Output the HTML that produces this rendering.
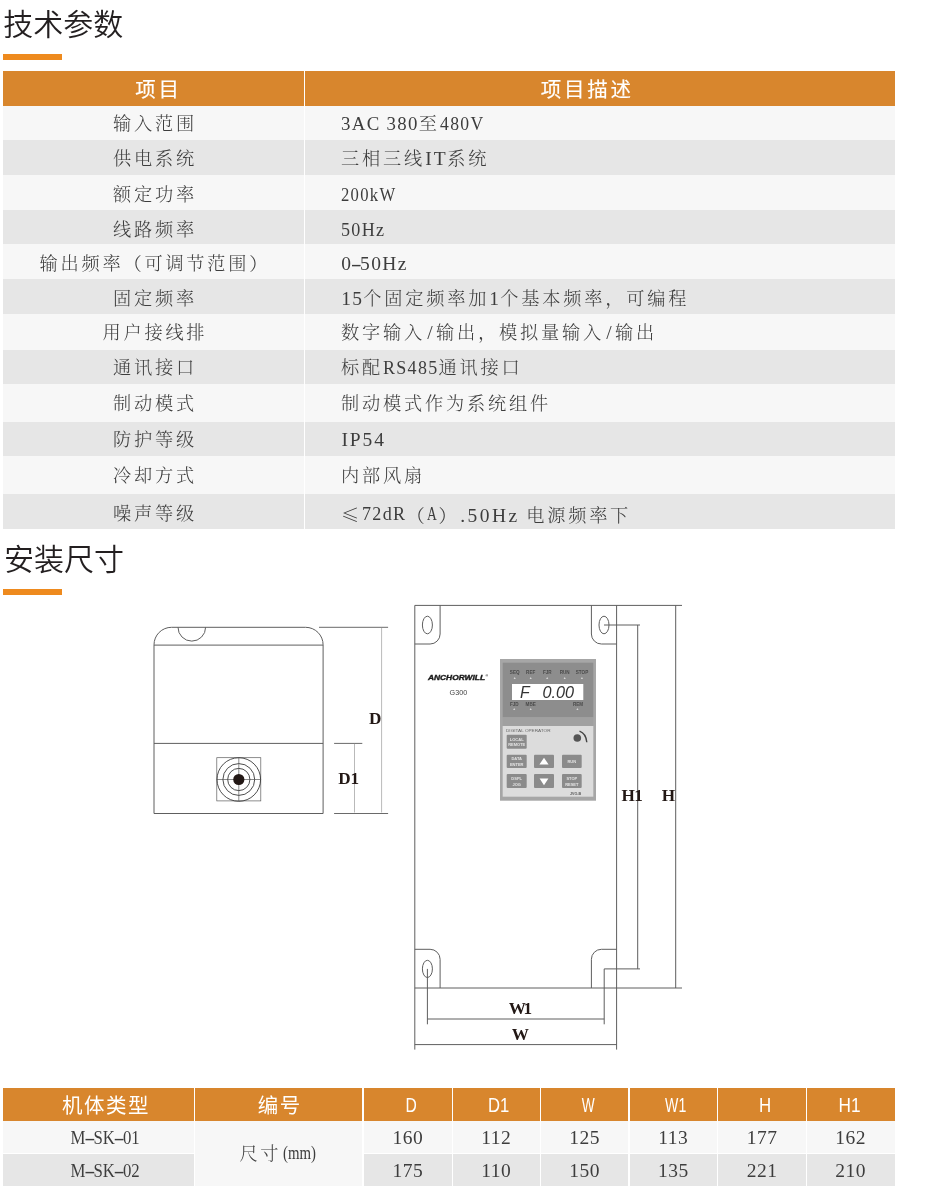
<!DOCTYPE html>
<html lang="zh-CN">
<head>
<meta charset="utf-8">
<title>技术参数</title>
<style>
*{box-sizing:border-box;margin:0;padding:0}
html,body{width:928px;height:1200px;background:#fff;overflow:hidden}
body{font-family:"Liberation Serif","Noto Serif CJK SC",serif;color:#3d3d3d}
#pg{position:absolute;left:0;top:0;width:928px;height:1200px;will-change:transform;overflow:hidden}
#pg div,#pg h2{position:absolute;white-space:nowrap}
h2{left:4px;font-family:"Liberation Sans","Noto Sans CJK SC",sans-serif;font-weight:350;font-size:30px;line-height:40px;color:#231f20}
.bar{left:3px;width:59px;height:6px;background:#ee8a1e}
.hd{background:#d8862d}
.ht{color:#fff;font-family:"Liberation Sans","Noto Sans CJK SC",sans-serif;font-weight:400;line-height:30px;height:30px}
.t{font-weight:300;font-size:18.2px;letter-spacing:2.8px;line-height:30px;height:30px}
.c{text-align:center}
.l{letter-spacing:2px;position:relative;font-size:19.5px;line-height:1px}
.q{display:inline-block;transform-origin:0 50%;line-height:30px;vertical-align:top}
.hy{display:inline-block;transform:scaleX(2);margin:0 1.4px}
.k{font-family:"Noto Serif CJK SC",serif}
svg{position:absolute;left:0;top:0}
</style>
</head>
<body>
<div id="pg">
<h2 style="top:4.5px;left:3.3px">技术参数</h2>
<div class="bar" style="top:53.5px"></div>
<div class="hd" style="left:3px;top:71px;width:892px;height:34.5px"></div>
<div style="left:3px;top:105.5px;width:892px;height:34.9px;background:#f7f7f7"></div>
<div style="left:3px;top:140.4px;width:892px;height:35.0px;background:#e6e6e6"></div>
<div style="left:3px;top:175.4px;width:892px;height:34.6px;background:#f7f7f7"></div>
<div style="left:3px;top:210px;width:892px;height:34px;background:#e6e6e6"></div>
<div style="left:3px;top:244px;width:892px;height:35px;background:#f7f7f7"></div>
<div style="left:3px;top:279px;width:892px;height:35px;background:#e6e6e6"></div>
<div style="left:3px;top:314px;width:892px;height:35.6px;background:#f7f7f7"></div>
<div style="left:3px;top:349.6px;width:892px;height:34.4px;background:#e6e6e6"></div>
<div style="left:3px;top:384px;width:892px;height:37.6px;background:#f7f7f7"></div>
<div style="left:3px;top:421.6px;width:892px;height:34.8px;background:#e6e6e6"></div>
<div style="left:3px;top:456.4px;width:892px;height:38.0px;background:#f7f7f7"></div>
<div style="left:3px;top:494.4px;width:892px;height:34.6px;background:#e6e6e6"></div>
<div style="left:303.8px;top:71px;width:1.3px;height:458px;background:#fff"></div>
<div class="ht" style="left:135.2px;top:74.6px;font-size:20.5px;letter-spacing:2.8px;-webkit-text-stroke:0.15px #fff">项目</div>
<div class="ht" style="left:540.7px;top:74.6px;font-size:20.5px;letter-spacing:2.8px;-webkit-text-stroke:0.15px #fff">项目描述</div>
<div class="t c" style="left:3px;width:301px;padding-left:2.8px;top:108.8px">输入范围</div>
<div class="t" style="left:341px;top:108.8px"><span class="l q" style="letter-spacing:1.34px;transform:scaleX(0.967);margin-right:-2.62px">3AC 380</span>至<span class="l q" style="letter-spacing:1.44px;transform:scaleX(0.905);margin-right:-4.65px">480V</span></div>
<div class="t c" style="left:3px;width:301px;padding-left:2.8px;top:144.1px">供电系统</div>
<div class="t" style="left:341px;top:144.1px">三相三线<span class="l" style="letter-spacing:1.9px;left:0.4px">IT</span>系统</div>
<div class="t c" style="left:3px;width:301px;padding-left:2.8px;top:179.5px">额定功率</div>
<div class="t" style="left:341px;top:179.5px"><span class="l q" style="letter-spacing:1.52px;transform:scaleX(0.854);margin-right:-9.48px">200kW</span></div>
<div class="t c" style="left:3px;width:301px;padding-left:2.8px;top:215px">线路频率</div>
<div class="t" style="left:341px;top:215px"><span class="l q" style="letter-spacing:1.4px;transform:scaleX(0.928);margin-right:-3.42px">50Hz</span></div>
<div class="t c" style="left:3px;width:301px;padding-left:2.8px;top:249.4px">输出频率（可调节范围）</div>
<div class="t" style="left:341px;top:249.4px"><span class="l" style="letter-spacing:1.36px;left:0.13px">0<span class="hy" style="margin:0;transform:translateX(1.5px) scaleX(1.7)">-</span>50Hz</span></div>
<div class="t c" style="left:3px;width:301px;padding-left:2.8px;top:283.8px">固定频率</div>
<div class="t" style="left:341px;top:283.8px"><span class="l" style="letter-spacing:1.36px;left:0.13px">15</span>个固定频率加<span class="l" style="letter-spacing:1.36px;left:0.13px">1</span>个基本频率，可编程</div>
<div class="t c" style="left:3px;width:301px;padding-left:2.8px;top:318.4px">用户接线排</div>
<div class="t" style="left:341px;top:318.4px">数字输入<span class="l" style="letter-spacing:5.68px;left:2.29px">/</span>输出，模拟量输入<span class="l" style="letter-spacing:5.68px;left:2.29px">/</span>输出</div>
<div class="t c" style="left:3px;width:301px;padding-left:2.8px;top:352.5px">通讯接口</div>
<div class="t" style="left:341px;top:352.5px">标配<span class="l q" style="letter-spacing:1.41px;transform:scaleX(0.923);margin-right:-4.61px">RS485</span>通讯接口</div>
<div class="t c" style="left:3px;width:301px;padding-left:2.8px;top:389px">制动模式</div>
<div class="t" style="left:341px;top:389px">制动模式作为系统组件</div>
<div class="t c" style="left:3px;width:301px;padding-left:2.8px;top:425.2px">防护等级</div>
<div class="t" style="left:341px;top:425.2px"><span class="l" style="letter-spacing:1.9px;left:0.4px">IP54</span></div>
<div class="t c" style="left:3px;width:301px;padding-left:2.8px;top:461.1px">冷却方式</div>
<div class="t" style="left:341px;top:461.1px">内部风扇</div>
<div class="t c" style="left:3px;width:301px;padding-left:2.8px;top:498.7px">噪声等级</div>
<div class="t" style="left:341px;top:498.7px"><span class="k">≤</span><span class="l q" style="letter-spacing:1.4px;transform:scaleX(0.928);margin-right:-3.44px">72dR</span>（<span class="l q" style="letter-spacing:1.87px;transform:scaleX(0.696);margin-right:-4.85px">A</span>）<span class="l" style="letter-spacing:2.44px;left:0.67px">.50Hz </span>电源频率下</div>
<h2 style="top:539.5px">安装尺寸</h2>
<div class="bar" style="top:588.6px"></div>
<svg width="928" height="1200" viewBox="0 0 928 1200">
<defs>
<filter id="sf" x="-5%" y="-5%" width="110%" height="110%"><feGaussianBlur stdDeviation="0.45"/></filter>
<filter id="sf2" x="-20%" y="-20%" width="140%" height="140%"><feGaussianBlur stdDeviation="0.3"/></filter>
</defs>
<g fill="none" stroke="#5e5e5e" stroke-width="1">
<!-- side view -->
<path d="M154 813.5V644.8A17.5 17.5 0 0 1 171.5 627.3H305.6A17.5 17.5 0 0 1 323.1 644.8V813.5Z"/>
<path d="M154 645.1H323.1M154 743.4H323.1"/>
<path d="M178 627.3A13.8 13.8 0 0 0 205.6 627.3"/>
<rect x="216.8" y="757.7" width="44" height="43.2" stroke-width="0.7"/>
<g stroke="#3a3a3a" stroke-width="0.9"><circle cx="238.8" cy="779.5" r="21.8"/><circle cx="238.8" cy="779.5" r="15.9"/><circle cx="238.8" cy="779.5" r="11.1"/>
<path d="M216.8 779.5H260.8M238.8 757.7V800.9" stroke-width="0.6"/></g>
<circle cx="238.8" cy="779.5" r="5.6" fill="#231815" stroke="none"/>
<path d="M319 627.3H388.1M334.1 743.4H362.3M334.1 813.5H388.1" stroke="#6a6a6a"/>
<path d="M354.5 743.4V812.5M381.6 627.3V812.5" stroke="#8a8a8a" stroke-width="0.6"/>
<!-- front view -->
<path d="M414.8 605.4H682M414.8 988H682M414.8 605.4V1049.6M616.6 605.4V1049.6"/>
<path d="M440.1 605.4V634A10 10 0 0 1 430.1 644H414.8M591.4 605.4V634A10 10 0 0 0 601.4 644H616.6"/>
<path d="M414.8 949.3H430.1A10 10 0 0 1 440.1 959.3V988M616.6 949.3H601.4A10 10 0 0 0 591.4 959.3V988"/>
<ellipse cx="427.4" cy="625" rx="5" ry="8.8"/><ellipse cx="604" cy="625" rx="5" ry="8.8"/><ellipse cx="427.4" cy="968.9" rx="5" ry="8.6"/>
<path d="M604 625H640M637.7 625V968.9M640 968.9H604.2V1024.3M675.7 605.4V988"/>
<path d="M427.4 968.9V1024.3M427.4 1019H604.2M414.8 1044.6H616.6"/>
</g>
<g font-family="'Liberation Serif',serif" font-weight="700" font-size="17.2" fill="#231815">
<text x="369" y="724.2">D</text>
<text x="338.2" y="784.1">D1</text>
<text x="621.5" y="801.3" letter-spacing="-0.6">H1</text>
<text x="661.7" y="801.3">H</text>
<text x="508.8" y="1014" letter-spacing="-2.6">W1</text>
<text x="511.8" y="1039.6">W</text>
</g>
<!-- logo -->
<text x="428" y="680.2" font-family="'Liberation Sans',sans-serif" font-weight="700" font-style="italic" font-size="6.7" fill="#1a1a1a" stroke="#1a1a1a" stroke-width="0.35" textLength="57" lengthAdjust="spacingAndGlyphs">ANCHORWILL</text>
<text x="485.6" y="677.4" font-family="'Liberation Sans',sans-serif" font-size="3.4" font-weight="700" fill="#1a1a1a">®</text>
<text x="449.6" y="694.9" font-family="'Liberation Sans',sans-serif" font-size="7.8" fill="#444" textLength="17.6" lengthAdjust="spacingAndGlyphs">G300</text>
<!-- operator panel -->
<g filter="url(#sf)">
<rect x="500" y="659" width="96" height="141.7" fill="#a6a6a6"/>
<rect x="502.7" y="662.7" width="90.6" height="54.6" fill="#8d8d8d"/>
<rect x="502.7" y="717.3" width="90.6" height="8.7" fill="#a0a0a0"/>
<rect x="502.7" y="726" width="90.6" height="70.7" fill="#dcdcdc"/>
<rect x="512" y="684" width="71.3" height="16" fill="#fff"/>
<g fill="#8b8b8b">
<rect x="506.7" y="734.7" width="20" height="14" rx="1"/>
<rect x="506.7" y="754.7" width="20" height="13.3" rx="1"/><rect x="534" y="754.7" width="20" height="13.3" rx="1"/><rect x="562" y="754.7" width="19.7" height="13.3" rx="1"/>
<rect x="506.7" y="774" width="20" height="14" rx="1"/><rect x="534" y="774" width="20" height="14" rx="1"/><rect x="562" y="774" width="19.7" height="14" rx="1"/>
</g>
<path d="M544 757.8L548.6 764.6H539.4ZM544 785.2L548.4 778.6H539.6Z" fill="#fff"/>
<circle cx="577.3" cy="738" r="3.8" fill="#555"/>
<path d="M579.5 731.2Q586 733.5 586.8 742.2" fill="none" stroke="#444" stroke-width="1.4"/>
</g>
<g font-family="'Liberation Sans',sans-serif" filter="url(#sf2)">
<g font-size="4.6" fill="#4a4a4a" text-anchor="middle" font-weight="700">
<text x="514.7" y="673.6">SEQ</text><text x="530.7" y="673.6">REF</text><text x="547.3" y="673.6">FJR</text><text x="564.7" y="673.6">RUN</text><text x="582" y="673.6">STOP</text>
<text x="514.3" y="705.8">FJD</text><text x="530.7" y="705.8">MBE</text><text x="578" y="705.8">REM</text>
</g>
<g font-size="3.4" fill="#d6d6d6" text-anchor="middle">
<text x="514.7" y="678.8">▲</text><text x="530.7" y="678.8">▲</text><text x="547.3" y="678.8">▲</text><text x="564.7" y="678.8">▲</text><text x="582" y="678.8">▲</text>
<text x="514.3" y="710.3">▲</text><text x="530.7" y="710.3">▲</text><text x="577.5" y="710.3">▲</text>
</g>
<text x="520" y="697.7" font-size="15.8" font-style="italic" fill="#333">F</text>
<text x="542.4" y="697.7" font-size="15.8" font-style="italic" fill="#333" textLength="31.6" lengthAdjust="spacingAndGlyphs">0.00</text>
<text x="506" y="731.8" font-size="4.4" fill="#666" textLength="44.6" lengthAdjust="spacingAndGlyphs">DIGITAL OPERATOR</text>
<g font-size="4" fill="#e4e4e4" text-anchor="middle" font-weight="700">
<text x="516.7" y="740.8">LOCAL</text><text x="516.7" y="746.2">REMOTE</text>
<text x="516.7" y="760.2">DATA</text><text x="516.7" y="765.6">ENTER</text>
<text x="571.8" y="763">RUN</text>
<text x="516.7" y="780">DSPL</text><text x="516.7" y="785.6">JOG</text>
<text x="571.8" y="780">STOP</text><text x="571.8" y="785.6">RESET</text>
</g>
<text x="570" y="794.8" font-size="3.6" fill="#555" font-weight="700">JVO-B</text>
</g>
</svg>

<div class="hd" style="left:3px;top:1088.2px;width:190.75px;height:32.6px"></div>
<div style="left:3px;top:1120.8px;width:190.75px;height:32.7px;background:#f7f7f7"></div>
<div style="left:3px;top:1153.5px;width:190.75px;height:32.2px;background:#e6e6e6"></div>
<div class="ht c" style="left:-14.0px;width:240px;top:1091.1px;font-size:20.5px;letter-spacing:1.5px">机体类型</div>
<div class="t c" style="left:-15.3px;width:240px;top:1122.5px;font-size:19.5px;letter-spacing:0px"><span style="display:inline-block;transform:scaleX(0.86)">M<span class="hy">-</span>SK<span class="hy">-</span>01</span></div>
<div class="t c" style="left:-15.3px;width:240px;top:1156.2px;font-size:19.5px;letter-spacing:0px"><span style="display:inline-block;transform:scaleX(0.86)">M<span class="hy">-</span>SK<span class="hy">-</span>02</span></div>
<div class="hd" style="left:195.25px;top:1088.2px;width:167.2px;height:32.6px"></div>
<div style="left:195.25px;top:1120.8px;width:167.2px;height:64.9px;background:#f7f7f7"></div>
<div class="ht c" style="left:159.75px;width:240px;top:1091.1px;font-size:20.5px;letter-spacing:1.5px">编号</div>
<div class="hd" style="left:363.95px;top:1088.2px;width:87.6px;height:32.6px"></div>
<div style="left:363.95px;top:1120.8px;width:87.6px;height:32.7px;background:#f7f7f7"></div>
<div style="left:363.95px;top:1153.5px;width:87.6px;height:32.2px;background:#e6e6e6"></div>
<div class="ht c" style="left:290.7px;width:240px;top:1090.4px;font-size:19.6px"><span style="display:inline-block;transform:scaleX(0.8)">D</span></div>
<div class="t c" style="left:287.75px;width:240px;top:1122.5px;font-size:19.5px;letter-spacing:0.5px">160</div>
<div class="t c" style="left:287.75px;width:240px;top:1156.2px;font-size:19.5px;letter-spacing:0.5px">175</div>
<div class="hd" style="left:453.05px;top:1088.2px;width:86.5px;height:32.6px"></div>
<div style="left:453.05px;top:1120.8px;width:86.5px;height:32.7px;background:#f7f7f7"></div>
<div style="left:453.05px;top:1153.5px;width:86.5px;height:32.2px;background:#e6e6e6"></div>
<div class="ht c" style="left:378.1px;width:240px;top:1090.4px;font-size:19.6px"><span style="display:inline-block;transform:scaleX(0.85)">D1</span></div>
<div class="t c" style="left:376.3px;width:240px;top:1122.5px;font-size:19.5px;letter-spacing:0.5px">112</div>
<div class="t c" style="left:376.3px;width:240px;top:1156.2px;font-size:19.5px;letter-spacing:0.5px">110</div>
<div class="hd" style="left:541.05px;top:1088.2px;width:87.3px;height:32.6px"></div>
<div style="left:541.05px;top:1120.8px;width:87.3px;height:32.7px;background:#f7f7f7"></div>
<div style="left:541.05px;top:1153.5px;width:87.3px;height:32.2px;background:#e6e6e6"></div>
<div class="ht c" style="left:468.4px;width:240px;top:1090.4px;font-size:19.6px"><span style="display:inline-block;transform:scaleX(0.7)">W</span></div>
<div class="t c" style="left:464.7px;width:240px;top:1122.5px;font-size:19.5px;letter-spacing:0.5px">125</div>
<div class="t c" style="left:464.7px;width:240px;top:1156.2px;font-size:19.5px;letter-spacing:0.5px">150</div>
<div class="hd" style="left:629.85px;top:1088.2px;width:87.0px;height:32.6px"></div>
<div style="left:629.85px;top:1120.8px;width:87.0px;height:32.7px;background:#f7f7f7"></div>
<div style="left:629.85px;top:1153.5px;width:87.0px;height:32.2px;background:#e6e6e6"></div>
<div class="ht c" style="left:555.4px;width:240px;top:1090.4px;font-size:19.6px"><span style="display:inline-block;transform:scaleX(0.72)">W1</span></div>
<div class="t c" style="left:553.35px;width:240px;top:1122.5px;font-size:19.5px;letter-spacing:0.5px">113</div>
<div class="t c" style="left:553.35px;width:240px;top:1156.2px;font-size:19.5px;letter-spacing:0.5px">135</div>
<div class="hd" style="left:718.35px;top:1088.2px;width:87.3px;height:32.6px"></div>
<div style="left:718.35px;top:1120.8px;width:87.3px;height:32.7px;background:#f7f7f7"></div>
<div style="left:718.35px;top:1153.5px;width:87.3px;height:32.2px;background:#e6e6e6"></div>
<div class="ht c" style="left:645.3px;width:240px;top:1090.4px;font-size:19.6px"><span style="display:inline-block;transform:scaleX(0.86)">H</span></div>
<div class="t c" style="left:642.0px;width:240px;top:1122.5px;font-size:19.5px;letter-spacing:0.5px">177</div>
<div class="t c" style="left:642.0px;width:240px;top:1156.2px;font-size:19.5px;letter-spacing:0.5px">221</div>
<div class="hd" style="left:807.15px;top:1088.2px;width:87.85px;height:32.6px"></div>
<div style="left:807.15px;top:1120.8px;width:87.85px;height:32.7px;background:#f7f7f7"></div>
<div style="left:807.15px;top:1153.5px;width:87.85px;height:32.2px;background:#e6e6e6"></div>
<div class="ht c" style="left:729.4px;width:240px;top:1090.4px;font-size:19.6px"><span style="display:inline-block;transform:scaleX(0.88)">H1</span></div>
<div class="t c" style="left:730.7px;width:240px;top:1122.5px;font-size:19.5px;letter-spacing:0.5px">162</div>
<div class="t c" style="left:730.7px;width:240px;top:1156.2px;font-size:19.5px;letter-spacing:0.5px">210</div>
<div class="t" style="left:239.4px;top:1139.2px;letter-spacing:2.6px">尺寸<span style="display:inline-block;font-size:19.5px;letter-spacing:0;transform:translateY(-1px) scaleX(0.76);transform-origin:0 50%;margin-left:2.5px">(mm)</span></div>
</div>
</body>
</html>
